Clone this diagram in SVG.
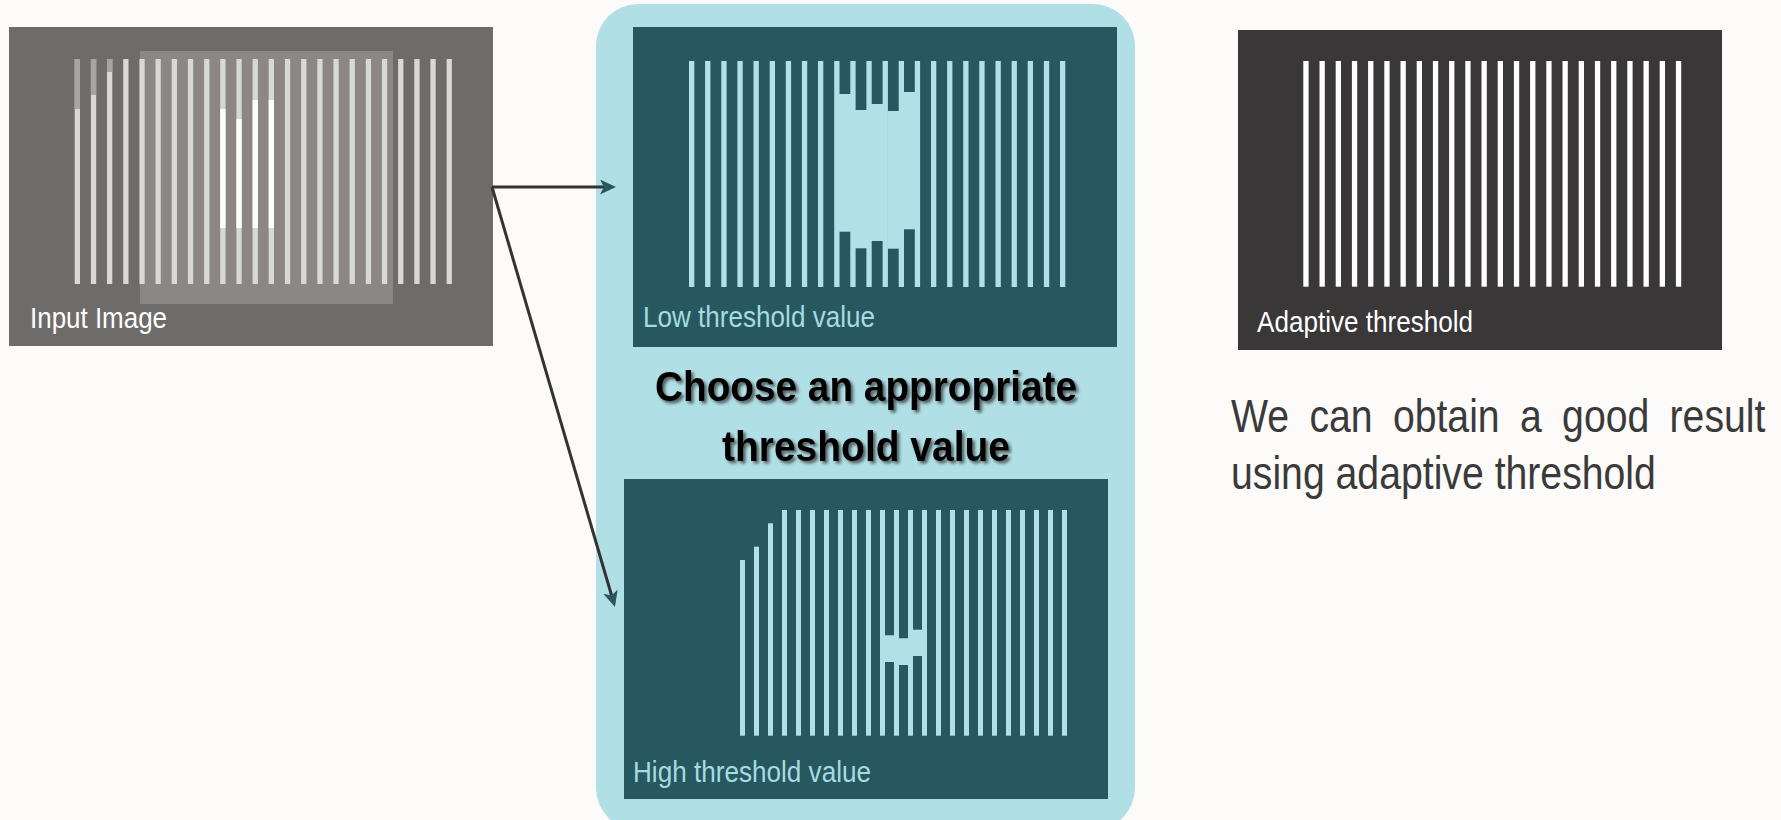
<svg xmlns="http://www.w3.org/2000/svg" width="1781" height="820" viewBox="0 0 1781 820">
  <style>
    .lbl { font-family: "Liberation Sans", Arial, sans-serif; font-size: 30px; }
    .body { font-family: "Liberation Sans", Arial, sans-serif; font-size: 47px; fill: #3a3a3a; }
    .title { font-family: "Liberation Sans", Arial, sans-serif; font-size: 42px; font-weight: bold; fill: #000; text-anchor: middle; }
    .cb { fill: #b1e1e7; }
    .gb { fill: #d8d8d8; }
    .wb { fill: #ffffff; }
    .conn { stroke: #333; stroke-width: 3; fill: none; }
  </style>
  <defs>
    <marker id="ah" markerUnits="userSpaceOnUse" markerWidth="16" markerHeight="15" refX="4" refY="7.5" orient="auto">
      <path d="M0,0 L16,7.5 L0,15 L4,7.5 z" fill="#27585f"/>
    </marker>
    <filter id="sh" x="-10%" y="-20%" width="120%" height="150%">
      <feDropShadow dx="2.5" dy="2.5" stdDeviation="1.5" flood-color="#333" flood-opacity="0.75"/>
    </filter>
  </defs>
  <rect width="1781" height="820" fill="#fcfbf9"/>

  <g id="container">
    <rect x="596" y="4" width="539" height="826" rx="42" fill="#b0e0e6"/>
  </g>

  <g id="input-image">
    <rect x="9" y="27" width="484" height="319" fill="#6d6c6a"/>
    <rect x="140" y="51" width="253" height="253" fill="#8a8786"/>
    <g class="gb">
      <rect x="74.7" y="59" width="5.3" height="225"/>
      <rect x="90.9" y="59" width="5.3" height="225"/>
      <rect x="107.0" y="59" width="5.3" height="225"/>
      <rect x="123.2" y="59" width="5.3" height="225"/>
      <rect x="139.4" y="59" width="5.3" height="225"/>
      <rect x="155.5" y="59" width="5.3" height="225"/>
      <rect x="171.7" y="59" width="5.3" height="225"/>
      <rect x="187.9" y="59" width="5.3" height="225"/>
      <rect x="204.1" y="59" width="5.3" height="225"/>
      <rect x="220.2" y="59" width="5.3" height="225"/>
      <rect x="236.4" y="59" width="5.3" height="225"/>
      <rect x="252.6" y="59" width="5.3" height="225"/>
      <rect x="268.7" y="59" width="5.3" height="225"/>
      <rect x="284.9" y="59" width="5.3" height="225"/>
      <rect x="301.1" y="59" width="5.3" height="225"/>
      <rect x="317.3" y="59" width="5.3" height="225"/>
      <rect x="333.4" y="59" width="5.3" height="225"/>
      <rect x="349.6" y="59" width="5.3" height="225"/>
      <rect x="365.8" y="59" width="5.3" height="225"/>
      <rect x="381.9" y="59" width="5.3" height="225"/>
      <rect x="398.1" y="59" width="5.3" height="225"/>
      <rect x="414.3" y="59" width="5.3" height="225"/>
      <rect x="430.4" y="59" width="5.3" height="225"/>
      <rect x="446.6" y="59" width="5.3" height="225"/>
    </g>
    <g fill="#a6a5a4">
      <rect x="74.7" y="59" width="5.3" height="50"/>
      <rect x="90.9" y="59" width="5.3" height="36"/>
      <rect x="107.0" y="59" width="5.3" height="13"/>
    </g>
    <g class="wb">
      <rect x="220.2" y="109" width="5.3" height="119"/>
      <rect x="236.4" y="119" width="5.3" height="109"/>
      <rect x="252.6" y="100" width="5.3" height="128"/>
      <rect x="268.7" y="100" width="5.3" height="128"/>
    </g>
    <text class="lbl" x="30" y="328" fill="#ffffff" textLength="137" lengthAdjust="spacingAndGlyphs">Input Image</text>
  </g>

  <g id="low-threshold">
    <rect x="633" y="27" width="484" height="320" fill="#27585f"/>
    <g class="cb">
      <rect x="689.0" y="61" width="5.3" height="226"/>
      <rect x="705.1" y="61" width="5.3" height="226"/>
      <rect x="721.3" y="61" width="5.3" height="226"/>
      <rect x="737.4" y="61" width="5.3" height="226"/>
      <rect x="753.5" y="61" width="5.3" height="226"/>
      <rect x="769.7" y="61" width="5.3" height="226"/>
      <rect x="785.8" y="61" width="5.3" height="226"/>
      <rect x="801.9" y="61" width="5.3" height="226"/>
      <rect x="818.0" y="61" width="5.3" height="226"/>
      <rect x="834.2" y="61" width="5.3" height="226"/>
      <rect x="850.3" y="61" width="5.3" height="226"/>
      <rect x="866.4" y="61" width="5.3" height="226"/>
      <rect x="882.6" y="61" width="5.3" height="226"/>
      <rect x="898.7" y="61" width="5.3" height="226"/>
      <rect x="914.8" y="61" width="5.3" height="226"/>
      <rect x="931.0" y="61" width="5.3" height="226"/>
      <rect x="947.1" y="61" width="5.3" height="226"/>
      <rect x="963.2" y="61" width="5.3" height="226"/>
      <rect x="979.3" y="61" width="5.3" height="226"/>
      <rect x="995.5" y="61" width="5.3" height="226"/>
      <rect x="1011.6" y="61" width="5.3" height="226"/>
      <rect x="1027.7" y="61" width="5.3" height="226"/>
      <rect x="1043.9" y="61" width="5.3" height="226"/>
      <rect x="1060.0" y="61" width="5.3" height="226"/>
      <rect x="839" y="94" width="12" height="137.7"/>
      <rect x="855" y="110" width="12" height="138.3"/>
      <rect x="871" y="104" width="12" height="137"/>
      <rect x="887.5" y="111" width="12" height="137.7"/>
      <rect x="903.5" y="92" width="12" height="137.3"/>
    </g>
    <text class="lbl" x="643" y="327" fill="#a6dbe1" textLength="232" lengthAdjust="spacingAndGlyphs">Low threshold value</text>
  </g>

  <g id="title">
    <text class="title" filter="url(#sh)" x="866" y="401" textLength="422" lengthAdjust="spacingAndGlyphs">Choose an appropriate</text>
    <text class="title" filter="url(#sh)" x="866" y="461" textLength="288" lengthAdjust="spacingAndGlyphs">threshold value</text>
  </g>

  <g id="high-threshold">
    <rect x="624" y="479" width="484" height="320" fill="#27585f"/>
    <g class="cb">
      <rect x="740" y="560" width="5" height="175.7"/>
      <rect x="754" y="546.7" width="5" height="189"/>
      <rect x="768" y="523.3" width="5" height="212.4"/>
      <rect x="782" y="510" width="5" height="225.7"/>
      <rect x="796" y="510" width="5" height="225.7"/>
      <rect x="810" y="510" width="5" height="225.7"/>
      <rect x="824" y="510" width="5" height="225.7"/>
      <rect x="838" y="510" width="5" height="225.7"/>
      <rect x="852" y="510" width="5" height="225.7"/>
      <rect x="866" y="510" width="5" height="225.7"/>
      <rect x="880" y="510" width="5" height="225.7"/>
      <rect x="894" y="510" width="5" height="225.7"/>
      <rect x="908" y="510" width="5" height="225.7"/>
      <rect x="922" y="510" width="5" height="225.7"/>
      <rect x="936" y="510" width="5" height="225.7"/>
      <rect x="950" y="510" width="5" height="225.7"/>
      <rect x="964" y="510" width="5" height="225.7"/>
      <rect x="978" y="510" width="5" height="225.7"/>
      <rect x="992" y="510" width="5" height="225.7"/>
      <rect x="1006" y="510" width="5" height="225.7"/>
      <rect x="1020" y="510" width="5" height="225.7"/>
      <rect x="1034" y="510" width="5" height="225.7"/>
      <rect x="1048" y="510" width="5" height="225.7"/>
      <rect x="1062" y="510" width="5" height="225.7"/>
      <rect x="884.5" y="635.3" width="10" height="26.7"/>
      <rect x="898.5" y="638.3" width="10" height="26.7"/>
      <rect x="912.5" y="629.7" width="10" height="26.3"/>
    </g>
    <text class="lbl" x="633" y="782" fill="#a6dbe1" textLength="238" lengthAdjust="spacingAndGlyphs">High threshold value</text>
  </g>

  <g id="adaptive-threshold">
    <rect x="1238" y="30" width="484" height="320" fill="#393738"/>
    <g class="wb">
      <rect x="1303.3" y="61" width="5.3" height="225.7"/>
      <rect x="1319.5" y="61" width="5.3" height="225.7"/>
      <rect x="1335.7" y="61" width="5.3" height="225.7"/>
      <rect x="1351.9" y="61" width="5.3" height="225.7"/>
      <rect x="1368.1" y="61" width="5.3" height="225.7"/>
      <rect x="1384.3" y="61" width="5.3" height="225.7"/>
      <rect x="1400.5" y="61" width="5.3" height="225.7"/>
      <rect x="1416.7" y="61" width="5.3" height="225.7"/>
      <rect x="1432.9" y="61" width="5.3" height="225.7"/>
      <rect x="1449.1" y="61" width="5.3" height="225.7"/>
      <rect x="1465.3" y="61" width="5.3" height="225.7"/>
      <rect x="1481.5" y="61" width="5.3" height="225.7"/>
      <rect x="1497.7" y="61" width="5.3" height="225.7"/>
      <rect x="1513.9" y="61" width="5.3" height="225.7"/>
      <rect x="1530.1" y="61" width="5.3" height="225.7"/>
      <rect x="1546.3" y="61" width="5.3" height="225.7"/>
      <rect x="1562.5" y="61" width="5.3" height="225.7"/>
      <rect x="1578.7" y="61" width="5.3" height="225.7"/>
      <rect x="1594.9" y="61" width="5.3" height="225.7"/>
      <rect x="1611.1" y="61" width="5.3" height="225.7"/>
      <rect x="1627.3" y="61" width="5.3" height="225.7"/>
      <rect x="1643.5" y="61" width="5.3" height="225.7"/>
      <rect x="1659.7" y="61" width="5.3" height="225.7"/>
      <rect x="1675.9" y="61" width="5.3" height="225.7"/>
    </g>
    <text class="lbl" x="1257" y="332" fill="#ffffff" textLength="216" lengthAdjust="spacingAndGlyphs">Adaptive threshold</text>
  </g>

  <g id="description">
    <text class="body" transform="translate(1231,432) scale(0.834,1)" x="0" y="0" word-spacing="11.3">We can obtain a good result</text>
    <text class="body" transform="translate(1231,489) scale(0.834,1)" x="0" y="0">using adaptive threshold</text>
  </g>

  <g id="connectors">
    <line class="conn" x1="492" y1="187" x2="604" y2="187" marker-end="url(#ah)"/>
    <line class="conn" x1="492" y1="187" x2="611.6" y2="595.5" marker-end="url(#ah)"/>
  </g>
</svg>
